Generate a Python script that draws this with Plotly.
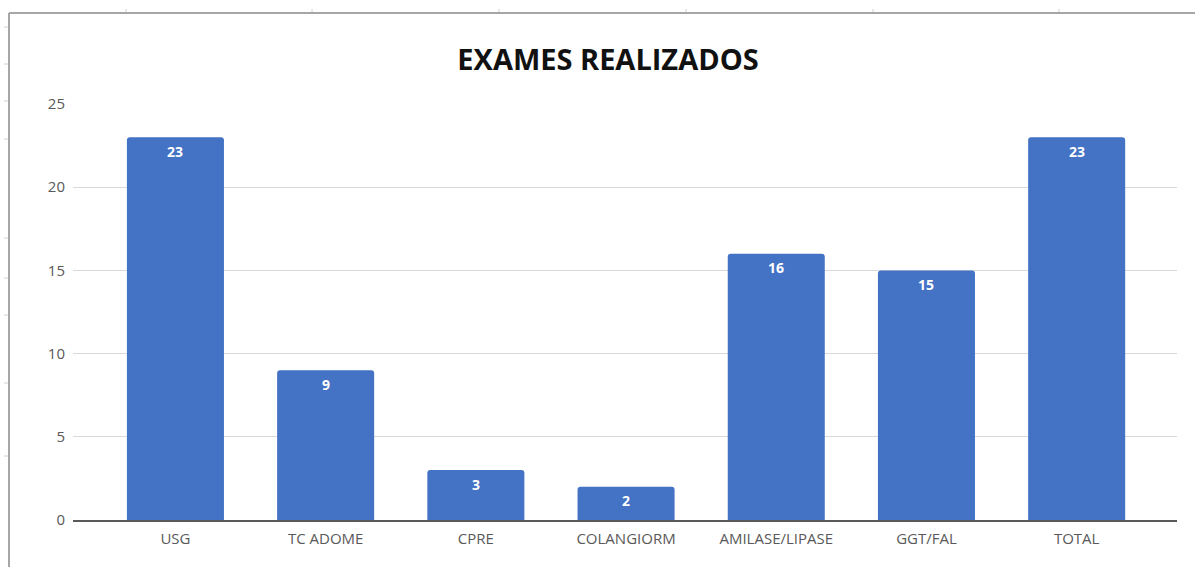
import plotly.graph_objects as go

categories = ["USG", "TC ADOME", "CPRE", "COLANGIORM", "AMILASE/LIPASE", "GGT/FAL", "TOTAL"]
values = [23, 9, 3, 2, 16, 15, 23]
y_ticks = [0, 5, 10, 15, 20, 25]

W, H = 1195, 567
L, R, T, B = 73, 18, 104, 47
pw, ph = W - L - R, H - T - B

def px_x(x):
    return (x - L) / pw

def px_y(y):
    return (H - B - y) / ph

fig = go.Figure()
fig.add_trace(go.Bar(
    x=list(range(len(categories))),
    y=values,
    width=0.646,
    marker=dict(color="#4472C4", line=dict(width=0)),
    hoverinfo="skip",
))

for i, v in enumerate(values):
    fig.add_annotation(x=i, y=v, text=f"<b>{v}</b>", showarrow=False,
                       yanchor="middle", yshift=-14,
                       font=dict(family="Open Sans", size=14, color="white"))

# chart border (Excel chart frame)
fig.add_shape(type="line", xref="paper", yref="paper",
              x0=px_x(9), x1=px_x(9), y0=px_y(13), y1=px_y(580),
              line=dict(color="#a6a6a6", width=2))
fig.add_shape(type="line", xref="paper", yref="paper",
              x0=px_x(9), x1=px_x(1200), y0=px_y(13), y1=px_y(13),
              line=dict(color="#a6a6a6", width=2))

# faint spreadsheet cell-border marks outside the chart frame
for gx in [126, 312, 499, 686, 873, 1059]:
    fig.add_shape(type="line", xref="paper", yref="paper",
                  x0=px_x(gx), x1=px_x(gx), y0=px_y(9), y1=px_y(12),
                  line=dict(color="#d0d0d0", width=1))
for gy in [27, 64, 101, 139, 238, 278, 315, 383, 456]:
    fig.add_shape(type="line", xref="paper", yref="paper",
                  x0=px_x(4), x1=px_x(8), y0=px_y(gy), y1=px_y(gy),
                  line=dict(color="#d0d0d0", width=1))

fig.update_layout(
    width=W, height=H,
    margin=dict(l=L, r=R, t=T, b=B, autoexpand=False),
    paper_bgcolor="white", plot_bgcolor="white",
    showlegend=False,
    barcornerradius=3,
    title=dict(text="<b>EXAMES REALIZADOS</b>", x=px_x(608), xanchor="center",
               xref="paper", y=1 - 60 / H, yanchor="middle",
               font=dict(family="Open Sans", size=29, color="#111111")),
    xaxis=dict(
        range=[-0.682, 6.668],
        tickmode="array", tickvals=list(range(len(categories))), ticktext=categories,
        showgrid=False, zeroline=False, showline=True, linecolor="#595959", linewidth=1.5,
        ticks="", tickfont=dict(family="Open Sans", size=15, color="#595959"),
        ticklabelstandoff=4,
    ),
    yaxis=dict(
        range=[0, 25], tickmode="array", tickvals=y_ticks,
        showgrid=True, gridcolor="#d9d9d9", gridwidth=1,
        zeroline=False, showline=False, ticks="",
        tickfont=dict(family="Open Sans", size=15, color="#595959"),
        ticklabelstandoff=7,
    ),
)

fig.write_html("out.html", config={"displayModeBar": False},
               post_script="document.body.style.margin='0';")
